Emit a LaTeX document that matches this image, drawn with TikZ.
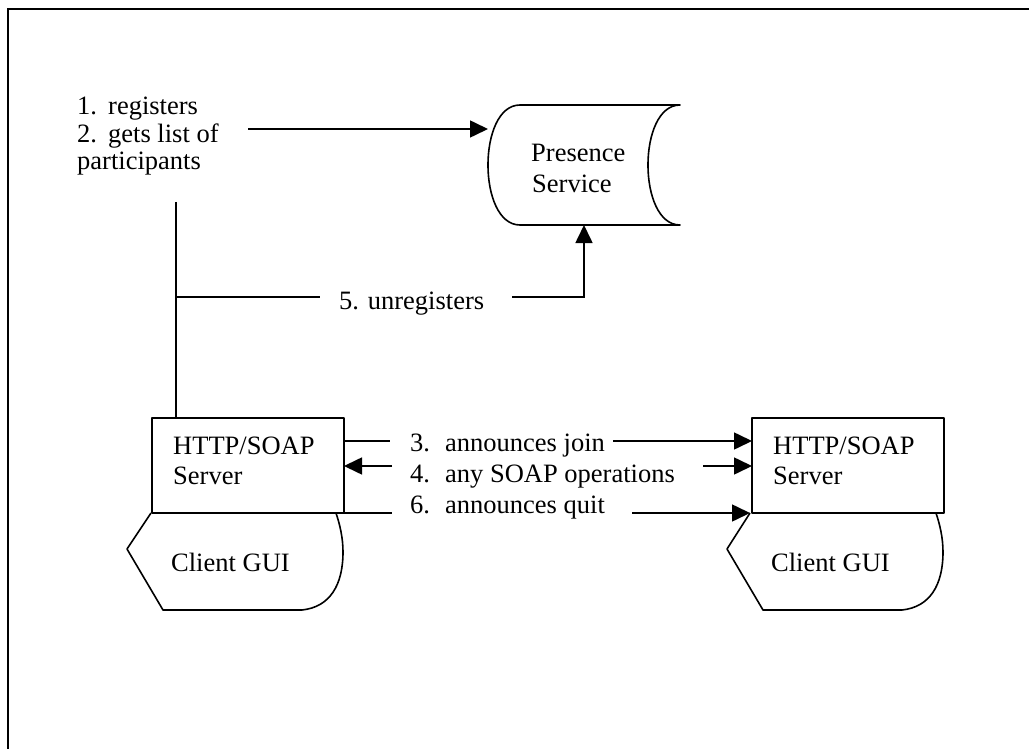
\documentclass[tikz,border=0pt]{standalone}
\usepackage{fontspec}
\setmainfont{Liberation Serif}
\usetikzlibrary{arrows.meta}
\begin{document}
\begin{tikzpicture}[x=1pt,y=-1pt,
  shp/.style={line width=1.6pt, line join=round},
  conn/.style={line width=1.6pt},
  arr/.style={conn,-{Triangle[length=18pt,width=17pt]}},
  txt/.style={inner sep=0pt, anchor=base west, font=\fontsize{26.5}{30}\selectfont},
  box/.style={draw, shp, minimum width=192pt, minimum height=95pt, inner sep=0pt, outer sep=0pt},
  area/.style={minimum width=192pt, minimum height=120pt, inner sep=0pt, outer sep=0pt}]
\useasboundingbox (0,0) rectangle (1029,749);
% frame
\draw[line width=2pt] (7.5,749) -- (7.5,9.5) -- (1029,9.5);

% servers
\node[box] (srvL) at (248,465.5) {};
\node[box] (srvR) at (848,465.5) {};
\node[txt] (srvLa) at (173,454) {HTTP/SOAP};
\node[txt] (srvLb) at (173,484) {Server};
\node[txt] (srvRa) at (773,454) {HTTP/SOAP};
\node[txt] (srvRb) at (773,484) {Server};

% presence service (stored data shape)
\node[area] (pres) at (584,165) {};
\draw[shp] (520,105) -- (680,105) .. controls (637.3,105) and (637.3,225) .. (680,225)
  -- (520,225) .. controls (477.3,225) and (477.3,105) .. (520,105) -- cycle;
\node[txt] (presa) at (531,162) {Presence};
\node[txt] (presb) at (532,193) {Service};

% client GUIs (display shape)
\draw[shp] (151,513) -- (127,549) -- (163,610) -- (302,610)
  .. controls (330,607) and (343,585) .. (343,552)
  .. controls (343,538) and (340,525) .. (336,513);
\draw[shp,xshift=600pt] (150,513) -- (127,549) -- (163,610) -- (302,610)
  .. controls (330,607) and (343,585) .. (343,552)
  .. controls (343,538) and (340,525) .. (336,513);
\node[txt] (guiL) at (171,571) {Client GUI};
\node[txt] (guiR) at (771,571) {Client GUI};

% step labels
\node[txt] (s1) at (77,115) {\makebox[31pt][l]{1.}registers};
\node[txt] (s2) at (77,143) {\makebox[31pt][l]{2.}gets list of};
\node[txt] (s2b) at (77,170) {participants};
\node[txt] (s5) at (339,309) {5. unregisters};
\node[txt] (s3) at (410,451) {\makebox[35pt][l]{3.}announces join};
\node[txt] (s4) at (410,482) {\makebox[35pt][l]{4.}any SOAP operations};
\node[txt] (s6) at (410,513) {\makebox[35pt][l]{6.}announces quit};

% connectors
\coordinate (a1) at (248,129);
\draw[arr] (a1) -- (pres.west |- a1);

\coordinate (v0) at (176,202);
\draw[conn] (v0) -- (v0 |- srvL.north);
\coordinate (u1) at (176,297);
\coordinate (u2) at (320,297);
\coordinate (u3) at (512,297);
\draw[conn] (u1) -- (u2);
\draw[arr] (u3) -- (pres.south |- u3) -- (pres.south);

\coordinate (l3a) at (390,441);
\coordinate (l3b) at (613,441);
\draw[conn] (srvL.east |- l3a) -- (l3a);
\draw[arr] (l3b) -- (srvR.west |- l3b);

\coordinate (l4a) at (392,466);
\coordinate (l4b) at (703,466);
\draw[arr] (l4a) -- (srvL.east |- l4a);
\draw[arr] (l4b) -- (srvR.west |- l4b);

\coordinate (l6a) at (392,513);
\coordinate (l6b) at (632,513);
\draw[conn] (srvL.east |- l6a) -- (l6a);
\draw[arr] (l6b) -- (750,513) coordinate (l6c);
\end{tikzpicture}
\end{document}
